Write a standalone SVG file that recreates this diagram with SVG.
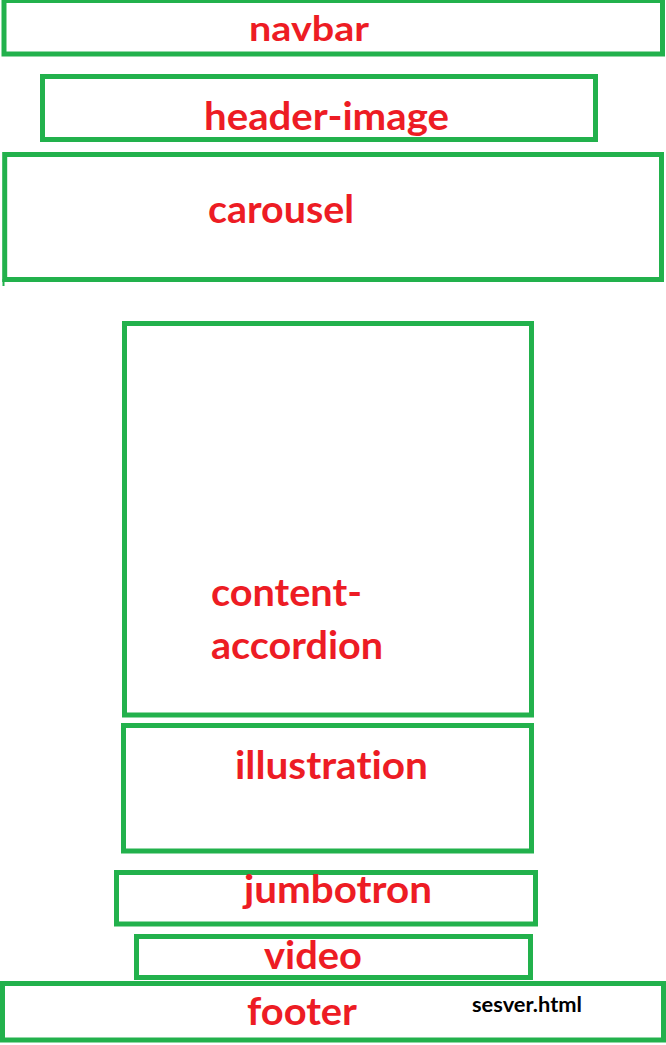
<svg xmlns="http://www.w3.org/2000/svg" width="666" height="1045" viewBox="0 0 666 1045">
<style>
.box{fill:none;stroke:#22b14c;stroke-width:5}
.lbl{font-family:Lato,"Open Sans","Liberation Sans",sans-serif;font-weight:bold;fill:#ed1c24;font-size:39px;font-variant-ligatures:none;font-feature-settings:"liga" 0}
.small{font-family:Lato,"Open Sans","Liberation Sans",sans-serif;font-weight:bold;fill:#000000;font-size:20px;font-variant-ligatures:none}
</style>
<rect width="666" height="1045" fill="#ffffff"/>
<g id="navbar">
<rect class="box" x="4" y="0.5" width="658.5" height="53.5"/>
<text class="lbl" x="249" y="41" style="font-size:34px" textLength="120" lengthAdjust="spacingAndGlyphs">navbar</text>
</g>
<g id="header-image">
<rect class="box" x="42.5" y="76.5" width="553" height="63"/>
<text class="lbl" x="204" y="130" textLength="245" lengthAdjust="spacingAndGlyphs">header-image</text>
</g>
<g id="carousel">
<rect class="box" x="4.7" y="154.5" width="656.8" height="125"/>
<line x1="3.5" y1="279" x2="3.5" y2="286" stroke="#22b14c" stroke-width="2"/>
<text class="lbl" x="208" y="223" textLength="146" lengthAdjust="spacingAndGlyphs">carousel</text>
</g>
<g id="content-accordion">
<rect class="box" x="124.5" y="323.5" width="407" height="391.5"/>
<text class="lbl" x="211" y="606" textLength="151" lengthAdjust="spacingAndGlyphs">content-</text>
<text class="lbl" x="211" y="659" textLength="172" lengthAdjust="spacingAndGlyphs">accordion</text>
</g>
<g id="illustration">
<rect class="box" x="123.5" y="725.5" width="408" height="125.5"/>
<text class="lbl" x="235" y="779" textLength="193" lengthAdjust="spacingAndGlyphs">illustration</text>
</g>
<g id="jumbotron">
<rect class="box" x="116.5" y="872.5" width="419" height="51.5"/>
<text class="lbl" x="244" y="903" textLength="188" lengthAdjust="spacingAndGlyphs">jumbotron</text>
</g>
<g id="video">
<rect class="box" x="136.5" y="936.5" width="394" height="41"/>
<text class="lbl" x="264" y="969" textLength="98" lengthAdjust="spacingAndGlyphs">video</text>
</g>
<g id="footer">
<rect class="box" x="2.5" y="983.5" width="661" height="56.5"/>
<text class="lbl" x="247" y="1025" textLength="110" lengthAdjust="spacingAndGlyphs">footer</text>
<text class="small" x="472" y="1012" textLength="110" lengthAdjust="spacingAndGlyphs">sesver.html</text>
</g>
<g id="connectors"/>
</svg>
